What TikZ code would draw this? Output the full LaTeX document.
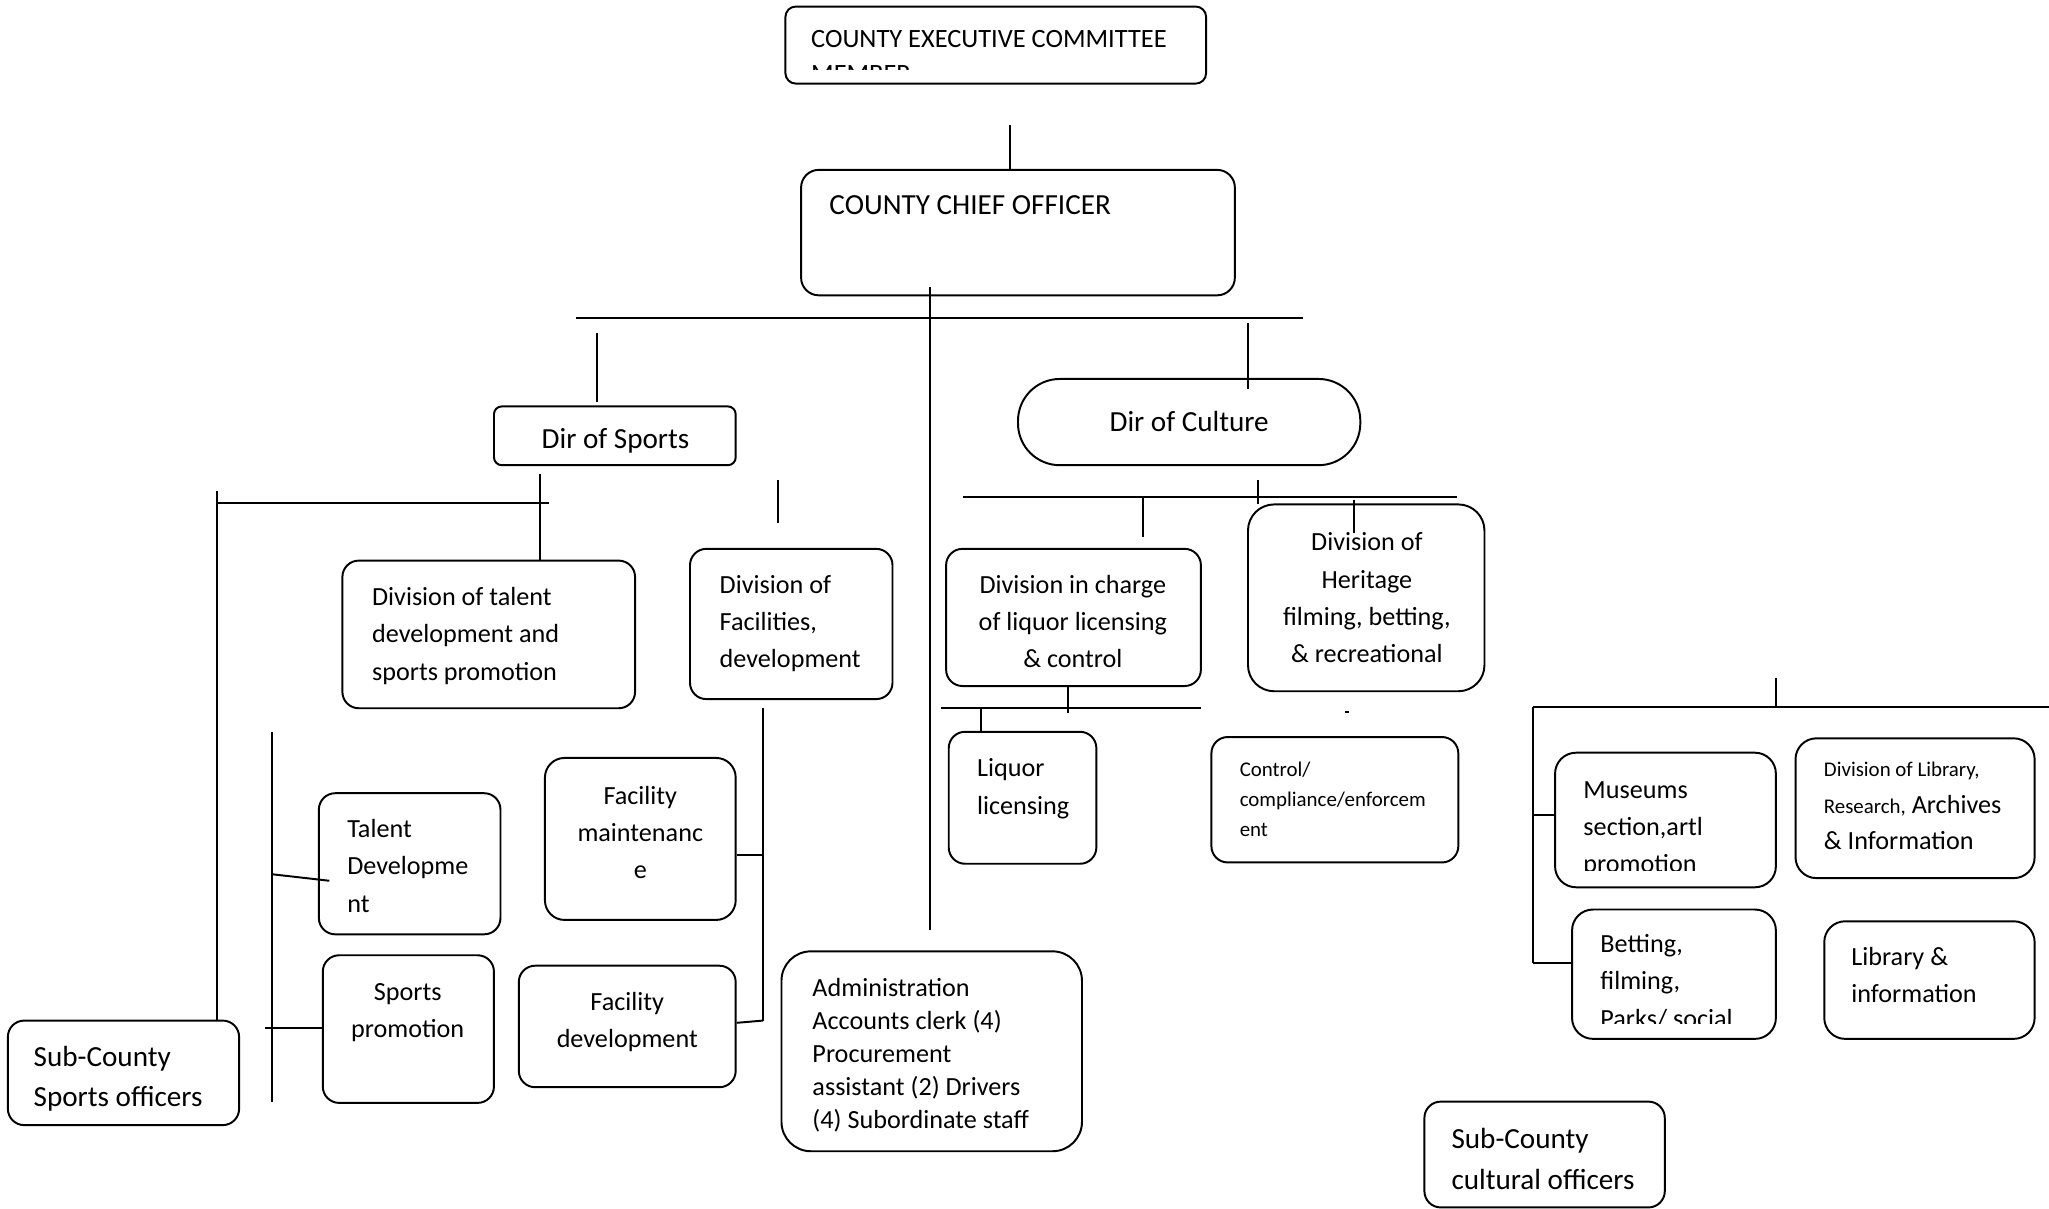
\documentclass[tikz,border=0pt]{standalone}
\usepackage{fontspec}
\setmainfont{Carlito}
\usepackage{tikz}

\newcommand{\bigtxt}{\fontsize{12.7}{17.6}\selectfont}
\newcommand{\midtxt}{\fontsize{11.4}{16.2}\selectfont}
\newcommand{\cectxt}{\fontsize{11.5}{15.5}\selectfont}
\newcommand{\admtxt}{\fontsize{11.4}{14.4}\selectfont}
\newcommand{\smalltxt}{\fontsize{9.1}{13}\selectfont}

\tikzset{
  box/.style={draw, rounded corners=#1, inner sep=0pt},
  box/.default=0.25cm,
  txt/.style={inner sep=0pt, anchor=base west, align=left, font=\midtxt},
  ctxt/.style={inner sep=0pt, anchor=base, align=center, font=\midtxt}
}

\begin{document}
\begin{tikzpicture}[x=0.02cm, y=-0.02cm, line width=0.85pt]
				\useasboundingbox (0,0) rectangle (1568,925);
				% Boxes:
				\node[box=0.16cm, minimum width=6.44cm, minimum height=1.18cm] (cec) at (762,34.5) {};
				\node[box=0.27cm, minimum width=6.64cm, minimum height=1.92cm] (cco) at (779,178) {};
				\node[box=0.12cm, minimum width=3.70cm, minimum height=0.90cm] (sports) at (470.5,333.5) {};
				\node[box=0.64cm, minimum width=5.24cm, minimum height=1.32cm] (culture) at (910,323) {};
				\node[box, minimum width=4.48cm, minimum height=2.26cm] (talentdiv) at (374,485.5) {};
				\node[box, minimum width=3.10cm, minimum height=2.30cm] (facdiv) at (605.5,477.5) {};
				\node[box, minimum width=2.78cm, minimum height=2.16cm] (talentdev) at (313.5,661) {};
				\node[box, minimum width=2.62cm, minimum height=2.26cm] (sportsprom) at (312.5,787.5) {};
				\node[box, minimum width=3.54cm, minimum height=1.60cm] (subsports) at (94.5,821) {};
				\node[box=0.3cm, minimum width=2.92cm, minimum height=2.48cm] (facmaint) at (490,642) {};
				\node[box, minimum width=3.32cm, minimum height=1.86cm] (facdev) at (480,785.5) {};
				\node[box=0.45cm, minimum width=4.60cm, minimum height=3.06cm] (admin) at (713,804.5) {};
				\node[box, minimum width=3.90cm, minimum height=2.10cm] (liquordiv) at (821.5,472.5) {};
				\node[box=0.4cm, minimum width=3.62cm, minimum height=2.86cm] (heritage) at (1045.5,457.5) {};
				\node[box, minimum width=2.26cm, minimum height=2.02cm] (liqlic) at (782.5,610.5) {};
				\node[box, minimum width=3.78cm, minimum height=1.92cm] (control) at (1021.5,612) {};
				\node[box=0.32cm, minimum width=3.38cm, minimum height=2.06cm] (museums) at (1274.5,627.5) {};
				\node[box=0.32cm, minimum width=3.66cm, minimum height=2.14cm] (libdiv) at (1465.5,618.5) {};
				\node[box=0.32cm, minimum width=3.12cm, minimum height=1.98cm] (betting) at (1281,745.5) {};
				\node[box=0.32cm, minimum width=3.22cm, minimum height=1.80cm] (libinfo) at (1476.5,750) {};
				\node[box, minimum width=3.68cm, minimum height=1.62cm] (subcult) at (1182,883.5) {};

				% Texts (placed at the baseline of their last line):
				\begin{scope}
					\clip (602,6) rectangle (922,53.5);
					\node[txt, font=\cectxt] (cec-t) at (620,63.3) {COUNTY EXECUTIVE COMMITTEE\\MEMBER};
				\end{scope}
				\node[txt, font=\bigtxt] (cco-t) at (634,164.5) {COUNTY CHIEF OFFICER};
				\node[ctxt, font=\bigtxt] (sports-t) at (471,343) {Dir of Sports};
				\node[ctxt, font=\bigtxt] (culture-t) at (910,330) {Dir of Culture};
				\node[txt] (talentdiv-t) at (284,520.5) {Division of talent\\development and\\sports promotion};
				\node[txt] (facdiv-t) at (550,511) {Division of\\Facilities,\\development};
				\node[txt] (talentdev-t) at (265,698) {Talent\\Developme\\nt};
				\node[ctxt] (sportsprom-t) at (312,794) {Sports\\promotion};
				\node[txt, font=\bigtxt] (subsports-t) at (25,847) {Sub-County\\Sports officers};
				\node[ctxt] (facmaint-t) at (490,672.5) {Facility\\maintenanc\\e};
				\node[ctxt] (facdev-t) at (480,801.5) {Facility\\development};
				\node[txt, font=\admtxt] (admin-t) at (621,863.5) {Administration\\Accounts clerk (4)\\Procurement\\assistant (2) Drivers\\(4) Subordinate staff};
				\node[ctxt] (liquordiv-t) at (821,511) {Division in charge\\of liquor licensing\\\& control};
				\node[ctxt] (heritage-t) at (1046,507) {Division of\\Heritage\\filming, betting,\\\& recreational};
				\node[txt] (liqlic-t) at (747,623) {Liquor\\licensing};
				\node[txt, font=\smalltxt] (control-t) at (948,640) {Control/\\compliance/enforcem\\ent};
				\begin{scope}
					\clip (1191,577) rectangle (1358,666);
					\node[txt] (museums-t) at (1211,668) {Museums\\section,artl\\promotion};
				\end{scope}
				\node[txt, font={\fontsize{11.4}{15.8}\selectfont}] (libdiv-t) at (1395,650) {{\smalltxt Division of Library,}\\{\smalltxt Research,} Archives\\\& Information};
				\begin{scope}
					\clip (1204,697) rectangle (1358,783);
					\node[txt] (betting-t) at (1224,786) {Betting,\\filming,\\Parks/ social};
				\end{scope}
				\node[txt] (libinfo-t) at (1416,767) {Library \&\\information};
				\node[txt, font=\bigtxt] (subcult-t) at (1110,910) {Sub-County\\cultural officers};

				% Wires, top:
				\coordinate (cecstub) at (773,96);
				\draw (cecstub) -- (cecstub |- cco.north);
				\coordinate (trunktop) at (712,220);
				\coordinate (trunkend) at (712,712);
				\draw (trunktop) -- (trunkend);
				\coordinate (busl) at (441,243);
				\coordinate (busr) at (997,243);
				\draw (busl) -- (busr);
				\coordinate (sportsstub) at (457,255);
				\draw (sportsstub) -- (457,308);
				\coordinate (culturestub) at (955,247);
				\draw (culturestub) -- (955,298);

				% Wires, sports:
				\coordinate (sbusl) at (166,385);
				\coordinate (sbusr) at (420,385);
				\draw (sbusl) -- (sbusr);
				\draw (166,376) -- (166,376 |- subsports.north);
				\coordinate (talentstub) at (413,363);
				\draw (talentstub) -- (talentstub |- talentdiv.north);
				\coordinate (facstub) at (595,367);
				\draw (facstub) -- (595,400);
				\coordinate (sprail-t) at (208,560);
				\coordinate (sprail-b) at (208,843);
				\draw (sprail-t) -- (sprail-b);
				\draw (208,669) -- (252,674);
				\draw (203,787) -- (sportsprom.west |- 203,787);
				\coordinate (frail-t) at (584,542);
				\coordinate (frail-b) at (584,781);
				\draw (frail-t) -- (frail-b);
				\draw (facmaint.east |- 0,654) -- (584,654);
				\draw (facdev.east |- 0,782.7) -- (frail-b);

				% Wires, culture:
				\coordinate (cbusl) at (737,380);
				\coordinate (cbusr) at (1115,380);
				\draw (cbusl) -- (cbusr);
				\draw (963,367) -- (963,386);
				\draw (875,380) -- (875,411);
				\draw (1036,383) -- (1036,408);
				\coordinate (lbusl) at (720,542);
				\coordinate (lbusr) at (919,542);
				\draw (lbusl) -- (lbusr);
				\draw (817,524) -- (817,546);
				\coordinate (liqstub) at (751,542);
				\draw (liqstub) -- (liqstub |- liqlic.north);
				\draw (1029,545) -- (1032,545);
				\draw (1359,519) -- (1359,541);
				\coordinate (mbusl) at (1173,541);
				\coordinate (mbusr) at (1568,541);
				\draw (mbusl) -- (mbusr);
				\draw (mbusl) -- (1173,737);
				\draw (1173,624) -- (museums.west |- 0,624);
				\draw (1173,737) -- (betting.west |- 0,737);
\end{tikzpicture}
\end{document}
